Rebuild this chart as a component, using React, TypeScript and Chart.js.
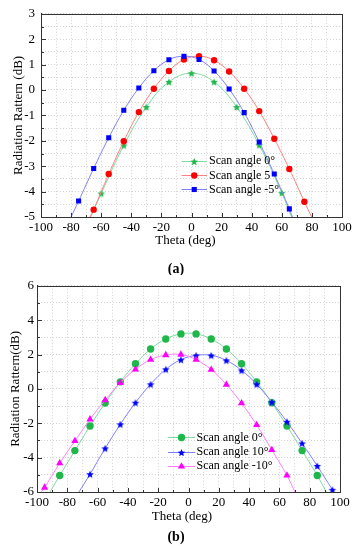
import React, { useEffect, useRef } from 'react';
import { Chart, registerables } from 'chart.js';

Chart.register(...registerables);

const FONT = '"Liberation Serif", "Times New Roman", serif';

// ---------- shared axis labels ----------
const thetaMajorTicks = [-100, -80, -60, -40, -20, 0, 20, 40, 60, 80, 100];
const gainMajorTicksA = [-5, -4, -3, -2, -1, 0, 1, 2, 3];
const gainMajorTicksB = [-6, -4, -2, 0, 2, 4, 6];

// ---------- panel (a) ----------
const thetaA0 = [-60, -45, -30, -15, 0, 15, 30, 45, 60];
const gainA0 = [-4.07, -2.18, -0.67, 0.32, 0.66, 0.32, -0.67, -2.17, -4.05];
const exitA0 = [-67, 66.5];

const thetaA5 = [-65, -55, -45, -35, -25, -15, -5, 5, 15, 25, 35, 45, 55, 65, 75];
const gainA5 = [-4.71, -3.31, -2.02, -0.87, 0.05, 0.75, 1.2, 1.33, 1.17, 0.73, 0.05, -0.83, -1.92, -3.11, -4.4];
const exitA5 = [-67.4, 79.8];

const thetaAm5 = [-75, -65, -55, -45, -35, -25, -15, -5, 5, 15, 25, 35, 45, 55, 65];
const gainAm5 = [-4.37, -3.09, -1.88, -0.8, 0.08, 0.76, 1.19, 1.33, 1.2, 0.75, 0.04, -0.89, -2.05, -3.31, -4.68];
const exitAm5 = [-80, 67];

// ---------- panel (b) ----------
const thetaB0 = [-85, -75, -65, -55, -45, -35, -25, -15, -5, 5, 15, 25, 35, 45, 55, 65, 75, 85];
const gainB0 = [-5.04, -3.59, -2.16, -0.82, 0.41, 1.46, 2.32, 2.9, 3.2, 3.2, 2.9, 2.32, 1.47, 0.41, -0.81, -2.16, -3.59, -5.04];
const exitB0 = [-91.4, 91];

const thetaB10 = [-65, -55, -45, -35, -25, -15, -5, 5, 15, 25, 35, 45, 55, 65, 75, 85, 95];
const gainB10 = [-4.96, -3.46, -2.06, -0.8, 0.27, 1.14, 1.7, 1.95, 1.95, 1.66, 1.08, 0.27, -0.77, -1.91, -3.17, -4.48, -5.87];
const exitB10 = [-72.3, 96];

const thetaBm10 = [-95, -85, -75, -65, -55, -45, -35, -25, -15, -5, 5, 15, 25, 35, 45, 55, 65];
const gainBm10 = [-5.74, -4.32, -3.03, -1.77, -0.65, 0.35, 1.14, 1.7, 1.97, 2.0, 1.7, 1.12, 0.25, -0.83, -2.1, -3.55, -5.04];
const exitBm10 = [-97.2, 70.3];

type MarkerStyle = 'circle' | 'rect' | 'triangle' | 'star';

interface Series {
  label: string;
  theta: number[];
  gain: number[];
  exits: number[];
  marker: string;
  line: string;
  style: MarkerStyle;
  r: number;
}

interface PanelCfg {
  yMin: number;
  yMax: number;
  yStep: number;
  yMajor: number[];
  yTickPad: number;
  yTitle: string;
  yTitleX: number;
  xTitleX: number;
  xTitleY: number;
  panelLabel: string;
  panelLabelX: number;
  panelLabelY: number;
  left: number;
  right: number;
  legend: { x1: number; x2: number; textX: number; y0: number; dy: number };
  series: Series[];
}

const W = 357;
const H = 275;
const TOP = 10;
const BOTTOM = 217;

const panelA: PanelCfg = {
  yMin: -5,
  yMax: 3,
  yStep: 0.5,
  yMajor: gainMajorTicksA,
  yTickPad: 6,
  yTitle: 'Radiation Rattern (dB)',
  yTitleX: 19,
  xTitleX: 185.5,
  xTitleY: 241,
  panelLabel: '(a)',
  panelLabelX: 176,
  panelLabelY: 269,
  left: 41,
  right: 342,
  legend: { x1: 181.5, x2: 207, textX: 209, y0: 160.7, dy: 14.3 },
  series: [
    { label: 'Scan angle 0°', theta: thetaA0, gain: gainA0, exits: exitA0, marker: '#1fb64a', line: '#7fdca0', style: 'star', r: 4 },
    { label: 'Scan angle 5', theta: thetaA5, gain: gainA5, exits: exitA5, marker: '#ff0000', line: '#ff8080', style: 'circle', r: 3.2 },
    { label: 'Scan angle -5°', theta: thetaAm5, gain: gainAm5, exits: exitAm5, marker: '#0000ff', line: '#8080ff', style: 'rect', r: 3.6 },
  ],
};

const panelB: PanelCfg = {
  yMin: -6,
  yMax: 6,
  yStep: 1,
  yMajor: gainMajorTicksB,
  yTickPad: 3,
  yTitle: 'Radiation Rattern(dB)',
  yTitleX: 16,
  xTitleX: 182,
  xTitleY: 242,
  panelLabel: '(b)',
  panelLabelX: 176,
  panelLabelY: 262,
  left: 37,
  right: 340,
  legend: { x1: 168, x2: 195, textX: 196.5, y0: 162.3, dy: 14.2 },
  series: [
    { label: 'Scan angle 0°', theta: thetaB0, gain: gainB0, exits: exitB0, marker: '#1fb64a', line: '#7fdca0', style: 'circle', r: 3.7 },
    { label: 'Scan angle 10°', theta: thetaB10, gain: gainB10, exits: exitB10, marker: '#0000ff', line: '#8080ff', style: 'star', r: 4 },
    { label: 'Scan angle -10°', theta: thetaBm10, gain: gainBm10, exits: exitBm10, marker: '#ff00ff', line: '#ff80ff', style: 'triangle', r: 4.2 },
  ],
};

function starPath(ctx: CanvasRenderingContext2D, cx: number, cy: number, r: number) {
  ctx.beginPath();
  for (let i = 0; i < 10; i++) {
    const rad = i % 2 === 0 ? r : r * 0.45;
    const a = -Math.PI / 2 + (i * Math.PI) / 5;
    const px = cx + rad * Math.cos(a);
    const py = cy + rad * Math.sin(a);
    if (i === 0) ctx.moveTo(px, py);
    else ctx.lineTo(px, py);
  }
  ctx.closePath();
}

function makeStar(color: string, r: number): HTMLCanvasElement {
  const size = Math.ceil(r * 2 + 2);
  const c = document.createElement('canvas');
  c.width = size;
  c.height = size;
  const ctx = c.getContext('2d')!;
  ctx.fillStyle = color;
  starPath(ctx, size / 2, size / 2 + 0.4, r);
  ctx.fill();
  return c;
}

function drawMarker(ctx: CanvasRenderingContext2D, s: Series, x: number, y: number) {
  ctx.save();
  ctx.fillStyle = s.marker;
  if (s.style === 'circle') {
    ctx.beginPath();
    ctx.arc(x, y, s.r, 0, Math.PI * 2);
    ctx.fill();
  } else if (s.style === 'rect') {
    const h = s.r * Math.SQRT1_2;
    ctx.fillRect(x - h, y - h, 2 * h, 2 * h);
  } else if (s.style === 'triangle') {
    ctx.beginPath();
    ctx.moveTo(x, y - s.r);
    ctx.lineTo(x + s.r * Math.sin(Math.PI / 3), y + s.r * 0.5);
    ctx.lineTo(x - s.r * Math.sin(Math.PI / 3), y + s.r * 0.5);
    ctx.closePath();
    ctx.fill();
  } else {
    starPath(ctx, x, y + 0.4, s.r);
    ctx.fill();
  }
  ctx.restore();
}

function Panel({ cfg }: { cfg: PanelCfg }) {
  const ref = useRef<HTMLCanvasElement | null>(null);

  useEffect(() => {
    const canvas = ref.current;
    if (!canvas) return;

    const datasets = cfg.series
      .map((s) => {
        const data = [
          { x: s.exits[0], y: cfg.yMin },
          ...s.theta.map((t, i) => ({ x: t, y: s.gain[i] })),
          { x: s.exits[1], y: cfg.yMin },
        ];
        const n = data.length;
        const styleObj: any = s.style === 'star' ? makeStar(s.marker, s.r) : s.style;
        return {
          label: s.label,
          data,
          borderColor: s.line,
          backgroundColor: s.marker,
          borderWidth: 1,
          tension: 0.4,
          pointStyle: (c: any) => (c.dataIndex === 0 || c.dataIndex === n - 1 ? 'circle' : styleObj),
          pointRadius: (c: any) => (c.dataIndex === 0 || c.dataIndex === n - 1 ? 0 : s.r),
          pointBorderWidth: 0,
          pointBorderColor: s.marker,
          pointBackgroundColor: s.marker,
          pointHoverRadius: 0,
        };
      })
      .reverse();

    const decor = {
      id: 'decor',
      afterDraw(chart: any) {
        const ctx: CanvasRenderingContext2D = chart.ctx;
        const { left, right, top, bottom } = chart.chartArea;
        const xs = chart.scales.x;
        const ys = chart.scales.y;
        ctx.save();
        // frame
        ctx.strokeStyle = '#333';
        ctx.lineWidth = 1;
        ctx.setLineDash([]);
        ctx.strokeRect(Math.round(left) + 0.5, Math.round(top) + 0.5, Math.round(right - left), Math.round(bottom - top));
        // inward ticks
        ctx.beginPath();
        for (let v = -100; v <= 100; v += 10) {
          const px = Math.round(xs.getPixelForValue(v)) + 0.5;
          const len = thetaMajorTicks.includes(v) ? 4 : 2;
          ctx.moveTo(px, Math.round(bottom));
          ctx.lineTo(px, Math.round(bottom) - len);
        }
        for (let v = cfg.yMin; v <= cfg.yMax + 1e-9; v += cfg.yStep) {
          const py = Math.round(ys.getPixelForValue(v)) + 0.5;
          const len = cfg.yMajor.includes(v) ? 4 : 2;
          ctx.moveTo(Math.round(left) + 1, py);
          ctx.lineTo(Math.round(left) + 1 + len, py);
        }
        ctx.stroke();

        // legend
        ctx.font = `12px ${FONT}`;
        ctx.textBaseline = 'middle';
        ctx.textAlign = 'left';
        cfg.series.forEach((s, i) => {
          const y = cfg.legend.y0 + i * cfg.legend.dy;
          ctx.strokeStyle = s.line;
          ctx.lineWidth = 1;
          ctx.beginPath();
          ctx.moveTo(cfg.legend.x1, Math.round(y) + 0.5);
          ctx.lineTo(cfg.legend.x2, Math.round(y) + 0.5);
          ctx.stroke();
          drawMarker(ctx, s, (cfg.legend.x1 + cfg.legend.x2) / 2, Math.round(y) + 0.5);
          ctx.fillStyle = '#000';
          ctx.fillText(s.label, cfg.legend.textX, y + 0.5);
        });

        // axis titles
        ctx.fillStyle = '#000';
        ctx.font = `13px ${FONT}`;
        ctx.textAlign = 'center';
        ctx.textBaseline = 'middle';
        ctx.fillText('Theta (deg)', cfg.xTitleX, cfg.xTitleY);
        ctx.save();
        ctx.translate(cfg.yTitleX, (top + bottom) / 2);
        ctx.rotate(-Math.PI / 2);
        ctx.fillText(cfg.yTitle, 0, 0);
        ctx.restore();

        // panel label
        ctx.font = `bold 14px ${FONT}`;
        ctx.fillText(cfg.panelLabel, cfg.panelLabelX, cfg.panelLabelY);
        ctx.restore();
      },
    };

    const chart = new Chart(canvas, {
      type: 'line',
      data: { datasets: datasets as any },
      options: {
        responsive: false,
        animation: false,
        events: [],
        layout: { padding: { left: 0, right: W - cfg.right, top: TOP, bottom: 0 } },
        plugins: { legend: { display: false }, tooltip: { enabled: false } },
        scales: {
          x: {
            type: 'linear',
            min: -100,
            max: 100,
            afterFit: (s: any) => {
              s.height = H - BOTTOM;
            },
            ticks: {
              stepSize: 10,
              autoSkip: false,
              maxRotation: 0,
              minRotation: 0,
              padding: 3,
              color: '#000',
              font: { family: FONT, size: 13 },
              callback: (v: any) => (thetaMajorTicks.includes(Number(v)) ? String(v) : ''),
            },
            grid: { color: '#d2d2d2', lineWidth: 1, drawTicks: false },
            border: { display: true, color: '#333', width: 1, dash: [1, 2] },
          },
          y: {
            type: 'linear',
            min: cfg.yMin,
            max: cfg.yMax,
            afterFit: (s: any) => {
              s.width = cfg.left;
            },
            ticks: {
              stepSize: cfg.yStep,
              autoSkip: false,
              padding: cfg.yTickPad,
              color: '#000',
              font: { family: FONT, size: 13 },
              callback: (v: any) => (cfg.yMajor.includes(Number(v)) ? String(v) : ''),
            },
            grid: { color: '#d2d2d2', lineWidth: 1, drawTicks: false },
            border: { display: true, color: '#333', width: 1, dash: [1, 2] },
          },
        },
      },
      plugins: [decor],
    });

    return () => chart.destroy();
  }, [cfg]);

  return <canvas ref={ref} width={W} height={H} style={{ display: 'block', width: W, height: H }} />;
}

export default function App() {
  return (
    <div style={{ position: 'absolute', left: 0, top: 0, width: W, height: 550, background: '#fff' }}>
      <Panel cfg={panelA} />
      <Panel cfg={panelB} />
    </div>
  );
}
